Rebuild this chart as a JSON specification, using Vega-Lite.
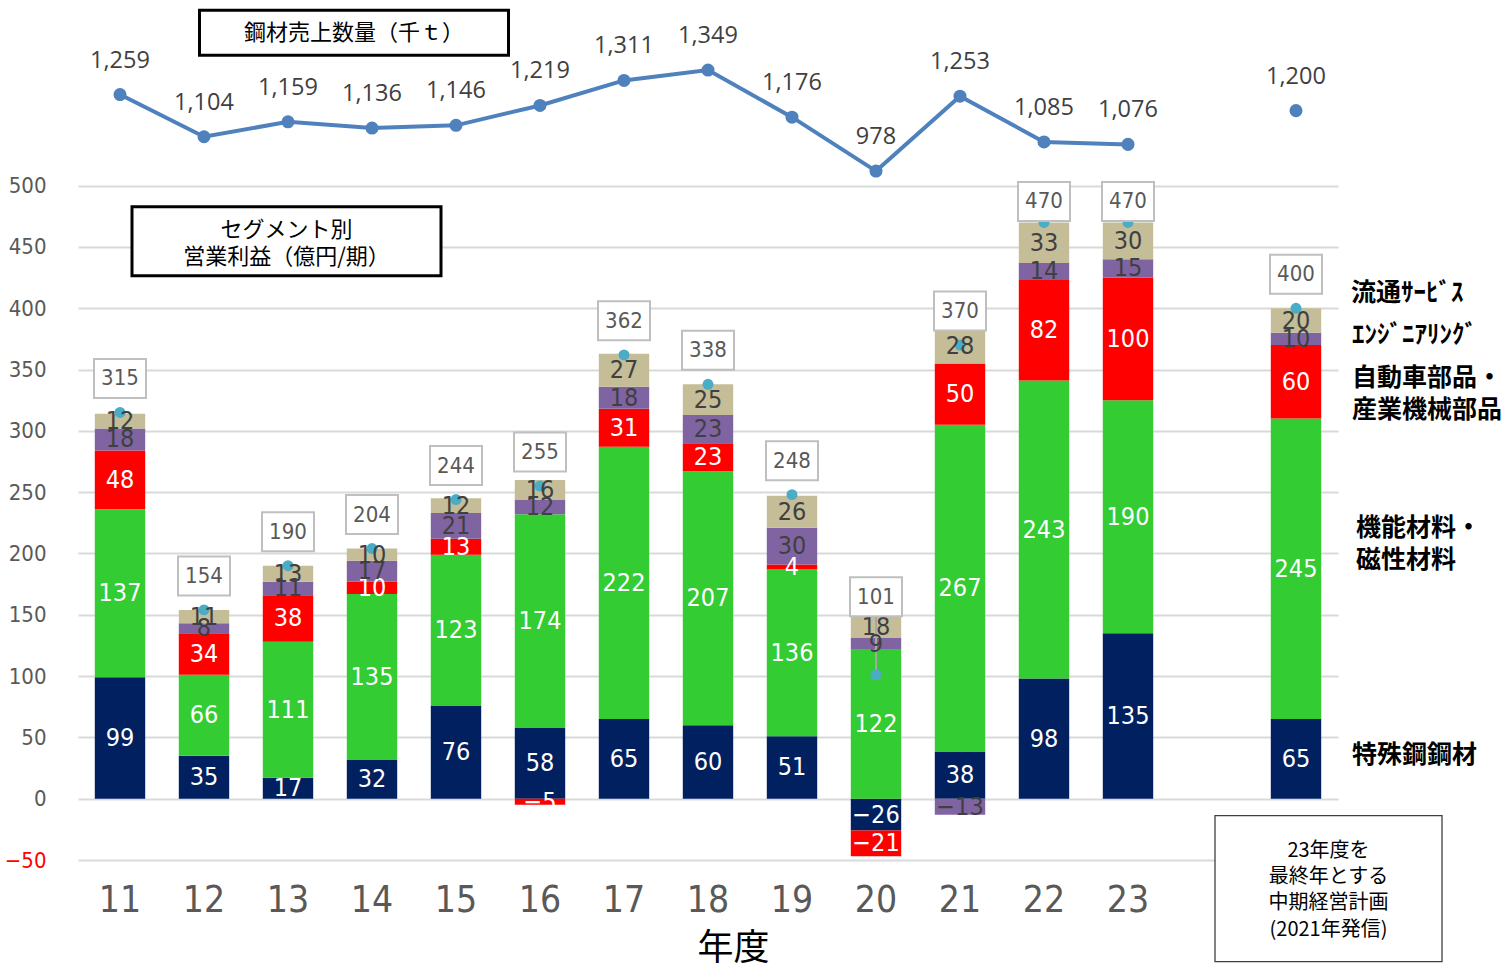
{
  "$schema": "https://vega.github.io/schema/vega-lite/v6.json",
  "width": 1260,
  "height": 846,
  "autosize": {"type": "none"},
  "padding": {"left": 78, "top": 14, "right": 169, "bottom": 109},
  "background": "white",
  "config": {"view": {"stroke": null}, "axis": {"domain": false, "ticks": false}},
  "datasets": {
    "seg": [
      {"year": "11", "seg": "特殊鋼鋼材", "order": 1, "v": 99},
      {"year": "11", "seg": "機能材料・\n磁性材料", "order": 2, "v": 137},
      {"year": "11", "seg": "自動車部品・\n産業機械部品", "order": 3, "v": 48},
      {"year": "11", "seg": "ｴﾝｼﾞﾆｱﾘﾝｸﾞ", "order": 4, "v": 18},
      {"year": "11", "seg": "流通ｻｰﾋﾞｽ", "order": 5, "v": 12},
      {"year": "12", "seg": "特殊鋼鋼材", "order": 1, "v": 35},
      {"year": "12", "seg": "機能材料・\n磁性材料", "order": 2, "v": 66},
      {"year": "12", "seg": "自動車部品・\n産業機械部品", "order": 3, "v": 34},
      {"year": "12", "seg": "ｴﾝｼﾞﾆｱﾘﾝｸﾞ", "order": 4, "v": 8},
      {"year": "12", "seg": "流通ｻｰﾋﾞｽ", "order": 5, "v": 11},
      {"year": "13", "seg": "特殊鋼鋼材", "order": 1, "v": 17},
      {"year": "13", "seg": "機能材料・\n磁性材料", "order": 2, "v": 111},
      {"year": "13", "seg": "自動車部品・\n産業機械部品", "order": 3, "v": 38},
      {"year": "13", "seg": "ｴﾝｼﾞﾆｱﾘﾝｸﾞ", "order": 4, "v": 11},
      {"year": "13", "seg": "流通ｻｰﾋﾞｽ", "order": 5, "v": 13},
      {"year": "14", "seg": "特殊鋼鋼材", "order": 1, "v": 32},
      {"year": "14", "seg": "機能材料・\n磁性材料", "order": 2, "v": 135},
      {"year": "14", "seg": "自動車部品・\n産業機械部品", "order": 3, "v": 10},
      {"year": "14", "seg": "ｴﾝｼﾞﾆｱﾘﾝｸﾞ", "order": 4, "v": 17},
      {"year": "14", "seg": "流通ｻｰﾋﾞｽ", "order": 5, "v": 10},
      {"year": "15", "seg": "特殊鋼鋼材", "order": 1, "v": 76},
      {"year": "15", "seg": "機能材料・\n磁性材料", "order": 2, "v": 123},
      {"year": "15", "seg": "自動車部品・\n産業機械部品", "order": 3, "v": 13},
      {"year": "15", "seg": "ｴﾝｼﾞﾆｱﾘﾝｸﾞ", "order": 4, "v": 21},
      {"year": "15", "seg": "流通ｻｰﾋﾞｽ", "order": 5, "v": 12},
      {"year": "16", "seg": "特殊鋼鋼材", "order": 1, "v": 58},
      {"year": "16", "seg": "機能材料・\n磁性材料", "order": 2, "v": 174},
      {"year": "16", "seg": "自動車部品・\n産業機械部品", "order": 3, "v": -5},
      {"year": "16", "seg": "ｴﾝｼﾞﾆｱﾘﾝｸﾞ", "order": 4, "v": 12},
      {"year": "16", "seg": "流通ｻｰﾋﾞｽ", "order": 5, "v": 16},
      {"year": "17", "seg": "特殊鋼鋼材", "order": 1, "v": 65},
      {"year": "17", "seg": "機能材料・\n磁性材料", "order": 2, "v": 222},
      {"year": "17", "seg": "自動車部品・\n産業機械部品", "order": 3, "v": 31},
      {"year": "17", "seg": "ｴﾝｼﾞﾆｱﾘﾝｸﾞ", "order": 4, "v": 18},
      {"year": "17", "seg": "流通ｻｰﾋﾞｽ", "order": 5, "v": 27},
      {"year": "18", "seg": "特殊鋼鋼材", "order": 1, "v": 60},
      {"year": "18", "seg": "機能材料・\n磁性材料", "order": 2, "v": 207},
      {"year": "18", "seg": "自動車部品・\n産業機械部品", "order": 3, "v": 23},
      {"year": "18", "seg": "ｴﾝｼﾞﾆｱﾘﾝｸﾞ", "order": 4, "v": 23},
      {"year": "18", "seg": "流通ｻｰﾋﾞｽ", "order": 5, "v": 25},
      {"year": "19", "seg": "特殊鋼鋼材", "order": 1, "v": 51},
      {"year": "19", "seg": "機能材料・\n磁性材料", "order": 2, "v": 136},
      {"year": "19", "seg": "自動車部品・\n産業機械部品", "order": 3, "v": 4},
      {"year": "19", "seg": "ｴﾝｼﾞﾆｱﾘﾝｸﾞ", "order": 4, "v": 30},
      {"year": "19", "seg": "流通ｻｰﾋﾞｽ", "order": 5, "v": 26},
      {"year": "20", "seg": "特殊鋼鋼材", "order": 1, "v": -26},
      {"year": "20", "seg": "機能材料・\n磁性材料", "order": 2, "v": 122},
      {"year": "20", "seg": "自動車部品・\n産業機械部品", "order": 3, "v": -21},
      {"year": "20", "seg": "ｴﾝｼﾞﾆｱﾘﾝｸﾞ", "order": 4, "v": 9},
      {"year": "20", "seg": "流通ｻｰﾋﾞｽ", "order": 5, "v": 18},
      {"year": "21", "seg": "特殊鋼鋼材", "order": 1, "v": 38},
      {"year": "21", "seg": "機能材料・\n磁性材料", "order": 2, "v": 267},
      {"year": "21", "seg": "自動車部品・\n産業機械部品", "order": 3, "v": 50},
      {"year": "21", "seg": "ｴﾝｼﾞﾆｱﾘﾝｸﾞ", "order": 4, "v": -13},
      {"year": "21", "seg": "流通ｻｰﾋﾞｽ", "order": 5, "v": 28},
      {"year": "22", "seg": "特殊鋼鋼材", "order": 1, "v": 98},
      {"year": "22", "seg": "機能材料・\n磁性材料", "order": 2, "v": 243},
      {"year": "22", "seg": "自動車部品・\n産業機械部品", "order": 3, "v": 82},
      {"year": "22", "seg": "ｴﾝｼﾞﾆｱﾘﾝｸﾞ", "order": 4, "v": 14},
      {"year": "22", "seg": "流通ｻｰﾋﾞｽ", "order": 5, "v": 33},
      {"year": "23", "seg": "特殊鋼鋼材", "order": 1, "v": 135},
      {"year": "23", "seg": "機能材料・\n磁性材料", "order": 2, "v": 190},
      {"year": "23", "seg": "自動車部品・\n産業機械部品", "order": 3, "v": 100},
      {"year": "23", "seg": "ｴﾝｼﾞﾆｱﾘﾝｸﾞ", "order": 4, "v": 15},
      {"year": "23", "seg": "流通ｻｰﾋﾞｽ", "order": 5, "v": 30},
      {"year": "計画", "seg": "特殊鋼鋼材", "order": 1, "v": 65},
      {"year": "計画", "seg": "機能材料・\n磁性材料", "order": 2, "v": 245},
      {"year": "計画", "seg": "自動車部品・\n産業機械部品", "order": 3, "v": 60},
      {"year": "計画", "seg": "ｴﾝｼﾞﾆｱﾘﾝｸﾞ", "order": 4, "v": 10},
      {"year": "計画", "seg": "流通ｻｰﾋﾞｽ", "order": 5, "v": 20}
    ],
    "tot": [
      {"year": "11", "total": 315, "sales": 1259},
      {"year": "12", "total": 154, "sales": 1104},
      {"year": "13", "total": 190, "sales": 1159},
      {"year": "14", "total": 204, "sales": 1136},
      {"year": "15", "total": 244, "sales": 1146},
      {"year": "16", "total": 255, "sales": 1219},
      {"year": "17", "total": 362, "sales": 1311},
      {"year": "18", "total": 338, "sales": 1349},
      {"year": "19", "total": 248, "sales": 1176},
      {"year": "20", "total": 101, "sales": 978},
      {"year": "21", "total": 370, "sales": 1253},
      {"year": "22", "total": 470, "sales": 1085},
      {"year": "23", "total": 470, "sales": 1076},
      {"year": "計画", "total": 400, "sales": 1200}
    ]
  },
  "layer": [
    {
      "layer": [
        {
          "data": {"name": "seg"},
          "mark": {"type": "bar"},
          "encoding": {
            "x": {
              "field": "year", "type": "nominal",
              "scale": {"domain": ["11","12","13","14","15","16","17","18","19","20","21","22","23"," ","計画"], "paddingInner": 0.4, "paddingOuter": 0.2},
              "sort": null,
              "axis": {
                "labelExpr": "datum.value === '計画' || datum.value === ' ' ? '' : datum.value",
                "labelFont": "DejaVu Sans Condensed, DejaVu Sans, sans-serif",
                "labelFontSize": 37, "labelColor": "#595959", "labelBaseline": "middle",
                "labelPadding": 40, "tickSize": 0, "labelAngle": 0, "grid": false,
                "title": "年度", "titleFont": "Noto Sans CJK JP", "titleFontSize": 36,
                "titleFontWeight": "normal", "titleColor": "#000000",
                "titleX": 655, "titleY": 88, "titleBaseline": "middle", "titleAlign": "center"
              }
            },
            "y": {
              "aggregate": "sum", "field": "v", "type": "quantitative",
              "scale": {"domain": [-50, 640], "nice": false, "zero": false},
              "axis": {
                "values": [-50,0,50,100,150,200,250,300,350,400,450,500],
                "grid": true, "gridColor": "#d9d9d9", "gridWidth": 2,
                "labelFont": "DejaVu Sans Condensed, DejaVu Sans, sans-serif",
                "labelFontSize": 22,
                "labelColor": {"condition": {"test": "datum.value < 0", "value": "#ff0000"}, "value": "#595959"},
                "labelPadding": 32, "tickSize": 0, "title": null
              }
            },
            "color": {
              "field": "seg", "type": "nominal",
              "scale": {"domain": ["特殊鋼鋼材","機能材料・\n磁性材料","自動車部品・\n産業機械部品","ｴﾝｼﾞﾆｱﾘﾝｸﾞ","流通ｻｰﾋﾞｽ"],
                        "range": ["#002060","#33cc33","#ff0000","#8064a2","#c4bd97"]},
              "legend": null
            },
            "order": {"field": "order", "type": "quantitative"}
          }
        },
        {
          "data": {"name": "tot"},
          "transform": [{"filter": "datum.year === '20'"}],
          "mark": {"type": "rule", "color": "#a6a6a6", "strokeWidth": 2, "y2Offset": -60},
          "encoding": {
            "x": {"field": "year", "type": "nominal"},
            "y": {"field": "total", "type": "quantitative", "title": null},
            "y2": {"field": "total"}
          }
        },
        {
          "data": {"name": "tot"},
          "mark": {"type": "point", "filled": true, "opacity": 1, "color": "#4bacc6", "size": 120},
          "encoding": {
            "x": {"field": "year", "type": "nominal"},
            "y": {"field": "total", "type": "quantitative", "title": null}
          }
        },
        {
          "data": {"name": "seg"},
          "transform": [
            {"stack": "v", "groupby": ["year"], "sort": [{"field": "order", "order": "ascending"}], "as": ["y0", "y1"], "offset": "zero"},
            {"fold": ["y0", "y1"], "as": ["k", "yy"]}
          ],
          "mark": {"type": "text", "font": "DejaVu Sans Condensed, DejaVu Sans, sans-serif", "fontSize": 25, "baseline": "middle", "align": "center"},
          "encoding": {
            "x": {"field": "year", "type": "nominal"},
            "y": {"aggregate": "mean", "field": "yy", "type": "quantitative", "stack": null, "title": null},
            "detail": {"field": "seg", "type": "nominal"},
            "text": {"field": "v", "type": "quantitative"},
            "color": {"condition": {"test": "datum.seg === 'ｴﾝｼﾞﾆｱﾘﾝｸﾞ' || datum.seg === '流通ｻｰﾋﾞｽ'", "value": "#404040"}, "value": "#ffffff"}
          }
        },
        {
          "data": {"name": "tot"},
          "transform": [{"filter": "datum.year !== '20' && datum.year !== '22' && datum.year !== '23'"}],
          "mark": {"type": "point", "shape": "M-1,-0.75H1V0.75H-1Z", "size": 2704, "filled": true, "fill": "#ffffff", "stroke": "#bfbfbf", "strokeWidth": 2, "opacity": 1, "yOffset": -34},
          "encoding": {
            "x": {"field": "year", "type": "nominal"},
            "y": {"field": "total", "type": "quantitative", "title": null}
          }
        },
        {
          "data": {"name": "tot"},
          "transform": [{"filter": "datum.year !== '20' && datum.year !== '22' && datum.year !== '23'"}],
          "mark": {"type": "text", "font": "DejaVu Sans Condensed, DejaVu Sans, sans-serif", "fontSize": 22, "color": "#595959", "baseline": "middle", "yOffset": -34},
          "encoding": {
            "x": {"field": "year", "type": "nominal"},
            "y": {"field": "total", "type": "quantitative", "title": null},
            "text": {"field": "total", "type": "quantitative"}
          }
        },
        {
          "data": {"name": "tot"},
          "transform": [{"filter": "datum.year === '22' || datum.year === '23'"}],
          "mark": {"type": "point", "shape": "M-1,-0.75H1V0.75H-1Z", "size": 2704, "filled": true, "fill": "#ffffff", "stroke": "#bfbfbf", "strokeWidth": 2, "opacity": 1, "yOffset": -21},
          "encoding": {
            "x": {"field": "year", "type": "nominal"},
            "y": {"field": "total", "type": "quantitative", "title": null}
          }
        },
        {
          "data": {"name": "tot"},
          "transform": [{"filter": "datum.year === '22' || datum.year === '23'"}],
          "mark": {"type": "text", "font": "DejaVu Sans Condensed, DejaVu Sans, sans-serif", "fontSize": 22, "color": "#595959", "baseline": "middle", "yOffset": -21},
          "encoding": {
            "x": {"field": "year", "type": "nominal"},
            "y": {"field": "total", "type": "quantitative", "title": null},
            "text": {"field": "total", "type": "quantitative"}
          }
        },
        {
          "data": {"name": "tot"},
          "transform": [{"filter": "datum.year === '20'"}],
          "mark": {"type": "point", "shape": "M-1,-0.75H1V0.75H-1Z", "size": 2704, "filled": true, "fill": "#ffffff", "stroke": "#bfbfbf", "strokeWidth": 2, "opacity": 1, "yOffset": -78},
          "encoding": {
            "x": {"field": "year", "type": "nominal"},
            "y": {"field": "total", "type": "quantitative", "title": null}
          }
        },
        {
          "data": {"name": "tot"},
          "transform": [{"filter": "datum.year === '20'"}],
          "mark": {"type": "text", "font": "DejaVu Sans Condensed, DejaVu Sans, sans-serif", "fontSize": 22, "color": "#595959", "baseline": "middle", "yOffset": -78},
          "encoding": {
            "x": {"field": "year", "type": "nominal"},
            "y": {"field": "total", "type": "quantitative", "title": null},
            "text": {"field": "total", "type": "quantitative"}
          }
        },
        {
          "data": {"name": "seg"},
          "transform": [
            {"stack": "v", "groupby": ["year"], "sort": [{"field": "order", "order": "ascending"}], "as": ["y0", "y1"], "offset": "zero"},
            {"fold": ["y0", "y1"], "as": ["k", "yy"]},
            {"filter": "datum.year === '計画' && (datum.order === 1 || datum.order === 3 || datum.order === 4)"}
          ],
          "mark": {"type": "text", "font": "Noto Sans CJK JP", "fontSize": 25, "fontWeight": "bold", "color": "#000000", "align": "left", "baseline": "middle", "xOffset": 56, "dy": -4, "lineBreak": "\n", "lineHeight": 32},
          "encoding": {
            "x": {"field": "year", "type": "nominal"},
            "y": {"aggregate": "mean", "field": "yy", "type": "quantitative", "stack": null, "title": null},
            "text": {"field": "seg", "type": "nominal"}
          }
        },
        {
          "data": {"name": "seg"},
          "transform": [
            {"stack": "v", "groupby": ["year"], "sort": [{"field": "order", "order": "ascending"}], "as": ["y0", "y1"], "offset": "zero"},
            {"fold": ["y0", "y1"], "as": ["k", "yy"]},
            {"filter": "datum.year === '計画' && datum.order === 5"}
          ],
          "mark": {"type": "text", "font": "Noto Sans CJK JP", "fontSize": 25, "fontWeight": "bold", "color": "#000000", "align": "left", "baseline": "middle", "xOffset": 55, "dy": -28, "lineBreak": "\n", "lineHeight": 32},
          "encoding": {
            "x": {"field": "year", "type": "nominal"},
            "y": {"aggregate": "mean", "field": "yy", "type": "quantitative", "stack": null, "title": null},
            "text": {"field": "seg", "type": "nominal"}
          }
        },
        {
          "data": {"name": "seg"},
          "transform": [
            {"stack": "v", "groupby": ["year"], "sort": [{"field": "order", "order": "ascending"}], "as": ["y0", "y1"], "offset": "zero"},
            {"fold": ["y0", "y1"], "as": ["k", "yy"]},
            {"filter": "datum.year === '計画' && datum.order === 2"}
          ],
          "mark": {"type": "text", "font": "Noto Sans CJK JP", "fontSize": 25, "fontWeight": "bold", "color": "#000000", "align": "left", "baseline": "middle", "xOffset": 60, "dy": -41, "lineBreak": "\n", "lineHeight": 32},
          "encoding": {
            "x": {"field": "year", "type": "nominal"},
            "y": {"aggregate": "mean", "field": "yy", "type": "quantitative", "stack": null, "title": null},
            "text": {"field": "seg", "type": "nominal"}
          }
        },
        {
          "data": {"values": [{"label": "鋼材売上数量（千ｔ）"}]},
          "mark": {"type": "point", "shape": "M-1,-0.1456H1V0.1456H-1Z", "size": 95481, "filled": true, "fill": "#ffffff", "stroke": "#000000", "strokeWidth": 3, "opacity": 1, "xOffset": -18},
          "encoding": {
            "x": {"datum": "14", "type": "nominal"},
            "y": {"datum": 624.8, "type": "quantitative", "title": null}
          }
        },
        {
          "data": {"values": [{"label": "鋼材売上数量（千ｔ）"}]},
          "mark": {"type": "text", "font": "Noto Sans CJK JP", "fontSize": 22, "color": "#000000", "baseline": "middle", "xOffset": -18},
          "encoding": {
            "x": {"datum": "14", "type": "nominal"},
            "y": {"datum": 624.8, "type": "quantitative", "title": null},
            "text": {"field": "label", "type": "nominal"}
          }
        },
        {
          "data": {"values": [{"label": "セグメント別\n営業利益（億円/期）"}]},
          "mark": {"type": "point", "shape": "M-1,-0.2233H1V0.2233H-1Z", "size": 95481, "filled": true, "fill": "#ffffff", "stroke": "#000000", "strokeWidth": 3, "opacity": 1, "xOffset": -1.5},
          "encoding": {
            "x": {"datum": "13", "type": "nominal"},
            "y": {"datum": 454.7, "type": "quantitative", "title": null}
          }
        },
        {
          "data": {"values": [{"label": "セグメント別\n営業利益（億円/期）"}]},
          "mark": {"type": "text", "font": "Noto Sans CJK JP", "fontSize": 22, "color": "#000000", "baseline": "middle", "xOffset": -1.5, "dy": -11, "lineBreak": "\n", "lineHeight": 27},
          "encoding": {
            "x": {"datum": "13", "type": "nominal"},
            "y": {"datum": 454.7, "type": "quantitative", "title": null},
            "text": {"field": "label", "type": "nominal"}
          }
        },
        {
          "data": {"values": [{"label": "23年度を\n最終年とする\n中期経営計画\n(2021年発信)"}]},
          "mark": {"type": "point", "shape": "M-1,-0.643H1V0.643H-1Z", "size": 51529, "filled": true, "fill": "#ffffff", "stroke": "#404040", "strokeWidth": 1.3, "opacity": 1, "xOffset": 32.5},
          "encoding": {
            "x": {"datum": "計画", "type": "nominal"},
            "y": {"datum": -73.4, "type": "quantitative", "title": null}
          }
        },
        {
          "data": {"values": [{"label": "23年度を\n最終年とする\n中期経営計画\n(2021年発信)"}]},
          "mark": {"type": "text", "font": "Noto Sans CJK JP", "fontSize": 20, "color": "#000000", "baseline": "middle", "xOffset": 32.5, "dy": -38, "lineBreak": "\n", "lineHeight": 26.3},
          "encoding": {
            "x": {"datum": "計画", "type": "nominal"},
            "y": {"datum": -73.4, "type": "quantitative", "title": null},
            "text": {"field": "label", "type": "nominal"}
          }
        }
      ]
    },
    {
      "data": {"name": "tot"},
      "encoding": {
        "x": {"field": "year", "type": "nominal"},
        "y": {"field": "sales", "type": "quantitative", "scale": {"domain": [-1553, 1555], "nice": false, "zero": false}, "axis": null}
      },
      "layer": [
        {
          "transform": [{"filter": "datum.year !== '計画'"}],
          "mark": {"type": "line", "color": "#4f81bd", "strokeWidth": 4}
        },
        {
          "mark": {"type": "point", "filled": true, "opacity": 1, "color": "#4f81bd", "size": 170}
        },
        {
          "mark": {"type": "text", "font": "Open Sans", "fontSize": 23.5, "color": "#404040", "baseline": "middle", "yOffset": -34},
          "encoding": {"text": {"field": "sales", "type": "quantitative", "format": ","}}
        }
      ]
    }
  ],
  "resolve": {"scale": {"y": "independent"}}
}
